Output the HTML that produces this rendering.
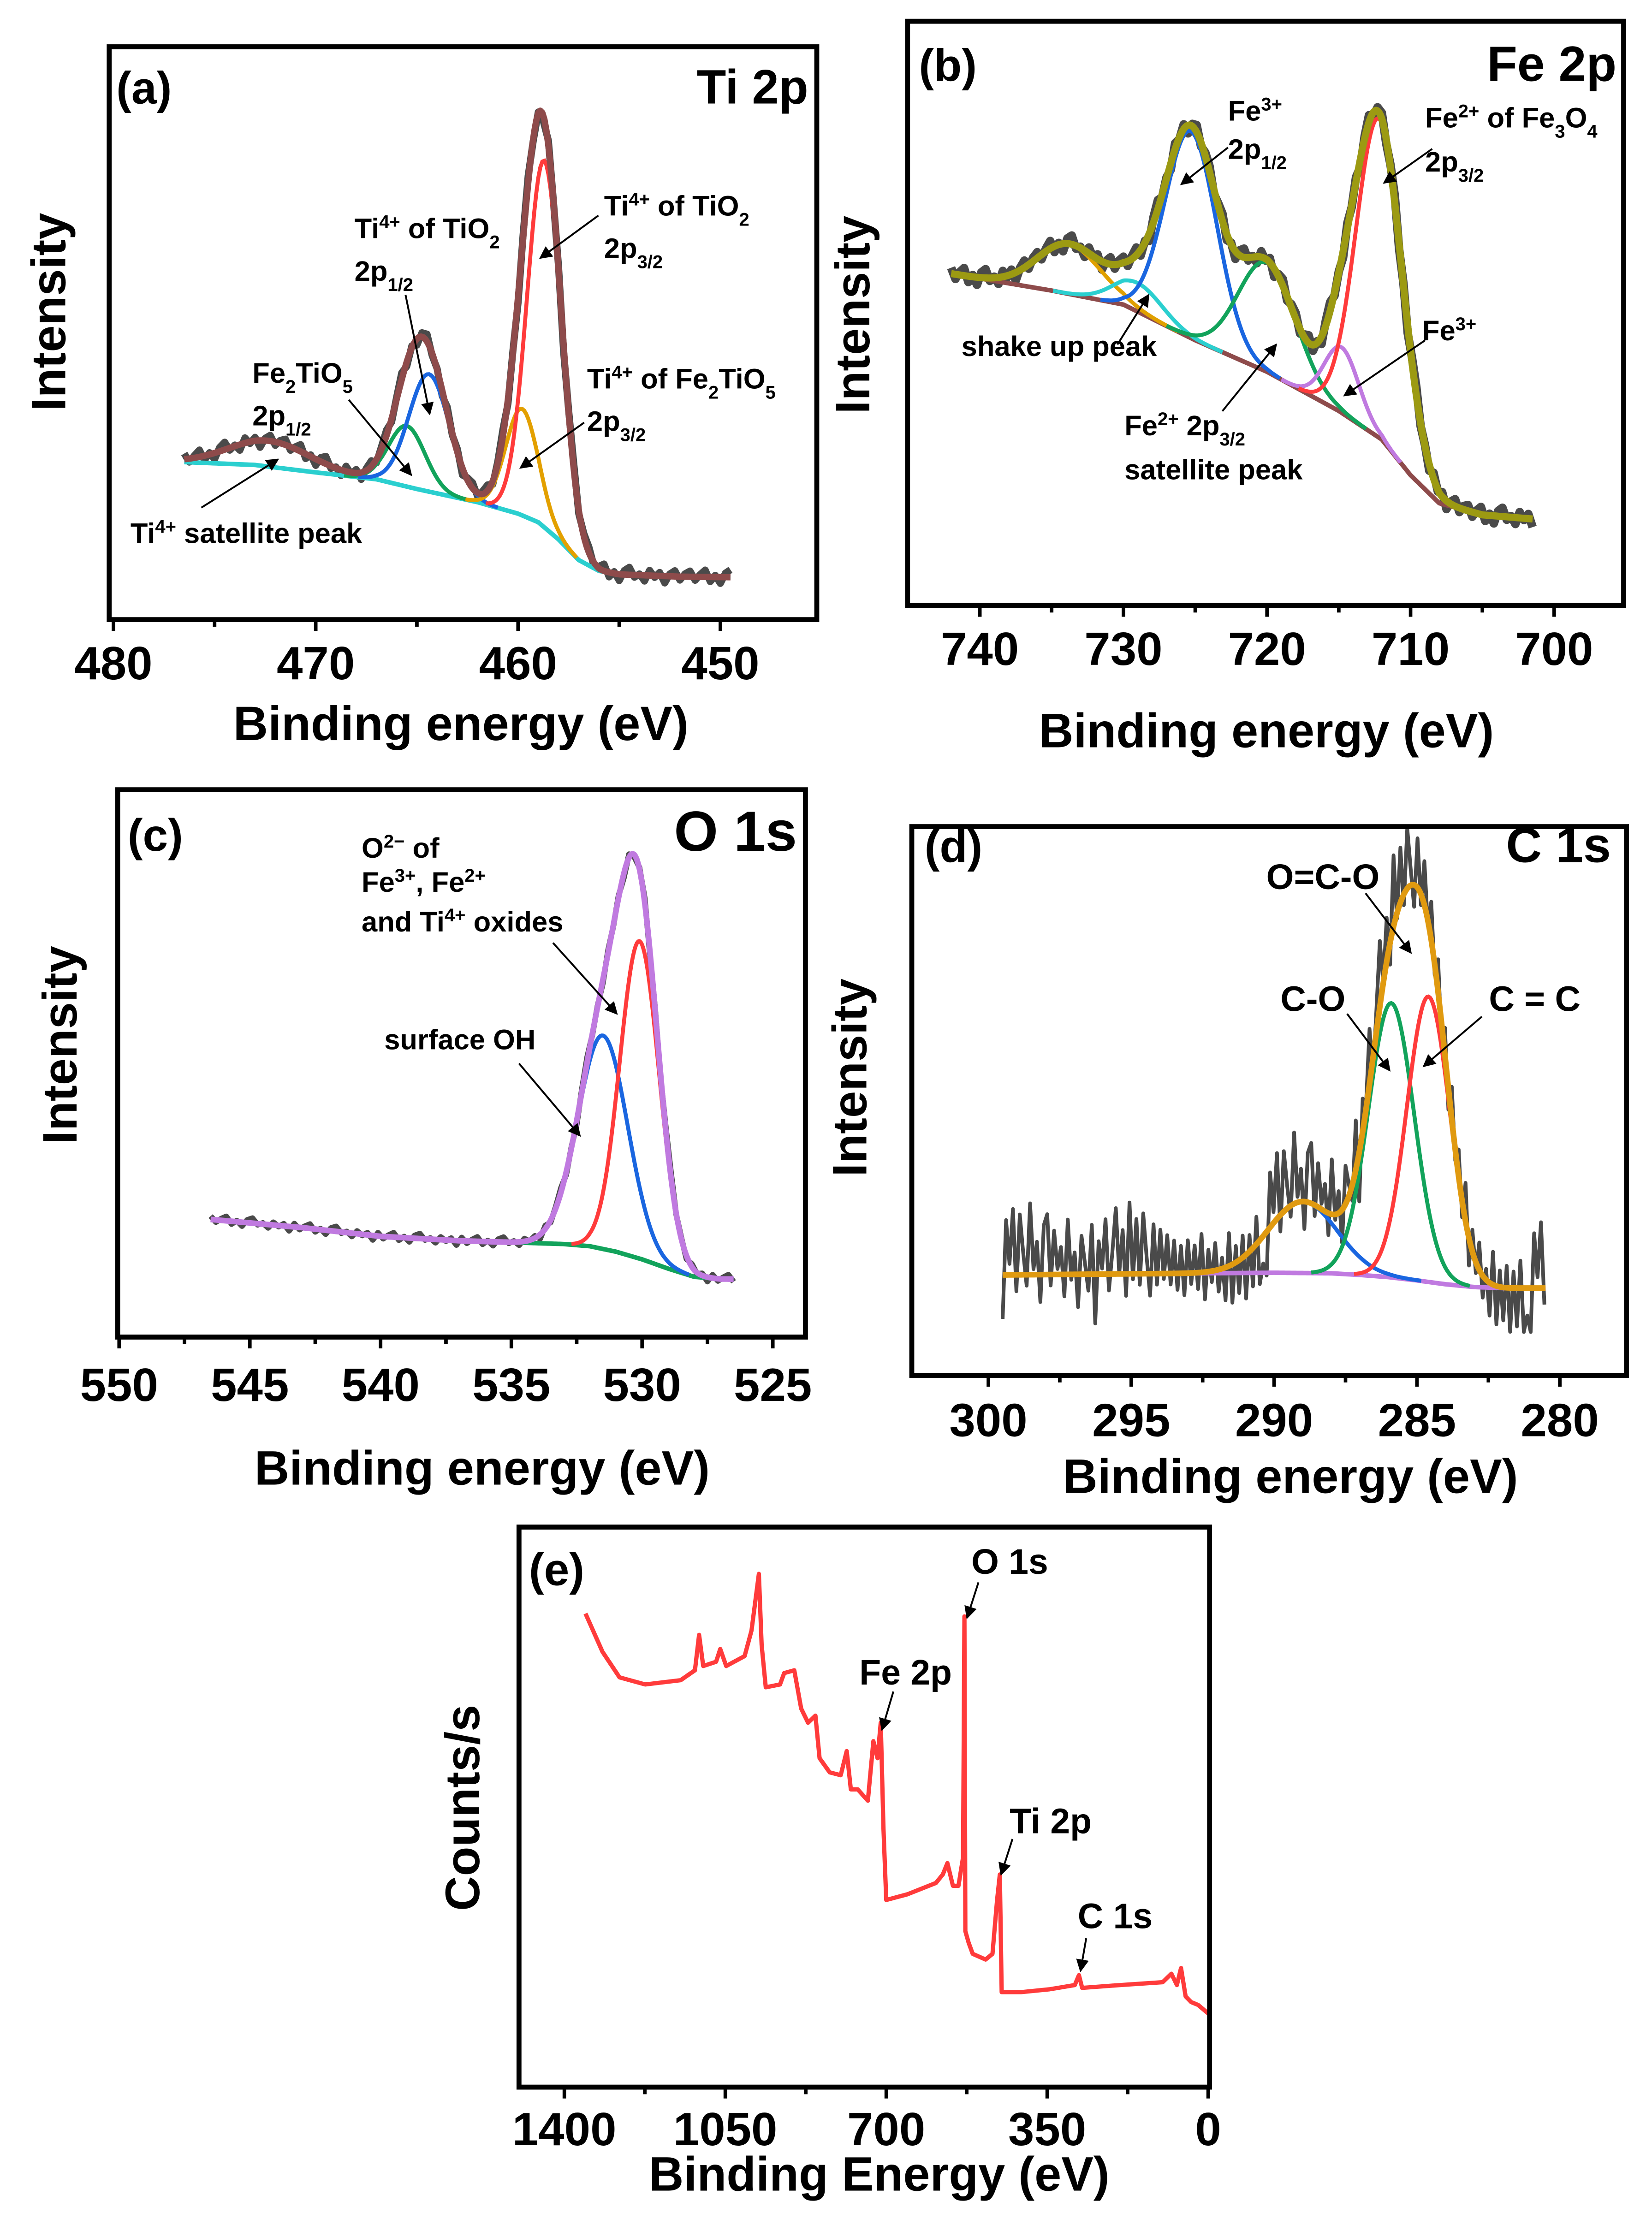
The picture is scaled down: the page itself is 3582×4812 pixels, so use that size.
<!DOCTYPE html>
<html><head><meta charset="utf-8"><style>
html,body{margin:0;padding:0;background:#fff}
svg{display:block}
text{font-family:"Liberation Sans",Arial,sans-serif;font-weight:bold;fill:#000}
.tk{font-size:33px}
.al{font-size:34px}
.an{font-size:20px}
.pl{font-size:32px}
</style></head><body>
<svg id="fig" width="3582" height="4812" viewBox="0 0 1165 1565" preserveAspectRatio="none" xmlns="http://www.w3.org/2000/svg">
<defs><marker id="ah" markerWidth="9" markerHeight="9" refX="8" refY="4.5" orient="auto" markerUnits="userSpaceOnUse" viewBox="0 0 9 9"><path d="M0,0 L9,4.5 L0,9 z" fill="#000"/></marker></defs>
<g id="curves"></g>
<rect x="77" y="33" width="499" height="404" fill="none" stroke="#000" stroke-width="3.5"/>
<rect x="640" y="15" width="505" height="412" fill="none" stroke="#000" stroke-width="3.5"/>
<rect x="83" y="557" width="485" height="386" fill="none" stroke="#000" stroke-width="3.5"/>
<rect x="643" y="583" width="504" height="387" fill="none" stroke="#000" stroke-width="3.5"/>
<rect x="366" y="1077" width="487" height="395" fill="none" stroke="#000" stroke-width="3.5"/>
<g id="ticks"></g>
<text class="al" x="325" y="522" text-anchor="middle">Binding energy (eV)</text>
<text class="al" x="893" y="527" text-anchor="middle">Binding energy (eV)</text>
<text class="al" x="340" y="1047" text-anchor="middle">Binding energy (eV)</text>
<text class="al" x="910" y="1053" text-anchor="middle">Binding energy (eV)</text>
<text class="al" x="620" y="1545" text-anchor="middle">Binding Energy (eV)</text>
<text class="al" transform="translate(46,220) rotate(-90)" text-anchor="middle">Intensity</text>
<text class="al" transform="translate(613,222) rotate(-90)" text-anchor="middle">Intensity</text>
<text class="al" transform="translate(54,737) rotate(-90)" text-anchor="middle">Intensity</text>
<text class="al" transform="translate(611,760) rotate(-90)" text-anchor="middle">Intensity</text>
<text class="al" transform="translate(338,1275) rotate(-90)" text-anchor="middle">Counts/s</text>
<text class="pl" x="82" y="73">(a)</text>
<text class="pl" x="570" y="73" text-anchor="end" style="font-size:34px">Ti 2p</text>
<text class="pl" x="648" y="57">(b)</text>
<text class="pl" x="1140" y="57" text-anchor="end" style="font-size:35px">Fe 2p</text>
<text class="pl" x="90" y="600">(c)</text>
<text class="pl" x="562" y="600" text-anchor="end" style="font-size:40px">O 1s</text>
<text class="pl" x="652" y="608">(d)</text>
<text class="pl" x="1136" y="608" text-anchor="end" style="font-size:35px">C 1s</text>
<text class="pl" x="373" y="1118">(e)</text>
<g>
<text class="an" x="250" y="168">Ti<tspan font-size="13" baseline-shift="super">4+</tspan> of TiO<tspan font-size="13" baseline-shift="sub">2</tspan></text>
<text class="an" x="250" y="198">2p<tspan font-size="13" baseline-shift="sub">1/2</tspan></text>
<line x1="286" y1="208" x2="303" y2="292" stroke="#000" stroke-width="1.3" marker-end="url(#ah)"/>
<text class="an" x="426" y="152">Ti<tspan font-size="13" baseline-shift="super">4+</tspan> of TiO<tspan font-size="13" baseline-shift="sub">2</tspan></text>
<text class="an" x="426" y="182">2p<tspan font-size="13" baseline-shift="sub">3/2</tspan></text>
<line x1="422" y1="152" x2="381" y2="182" stroke="#000" stroke-width="1.3" marker-end="url(#ah)"/>
<text class="an" x="414" y="274">Ti<tspan font-size="13" baseline-shift="super">4+</tspan> of Fe<tspan font-size="13" baseline-shift="sub">2</tspan>TiO<tspan font-size="13" baseline-shift="sub">5</tspan></text>
<text class="an" x="414" y="304">2p<tspan font-size="13" baseline-shift="sub">3/2</tspan></text>
<line x1="412" y1="298" x2="367" y2="330" stroke="#000" stroke-width="1.3" marker-end="url(#ah)"/>
<text class="an" x="178" y="270">Fe<tspan font-size="13" baseline-shift="sub">2</tspan>TiO<tspan font-size="13" baseline-shift="sub">5</tspan></text>
<text class="an" x="178" y="300">2p<tspan font-size="13" baseline-shift="sub">1/2</tspan></text>
<line x1="246" y1="282" x2="290" y2="335" stroke="#000" stroke-width="1.3" marker-end="url(#ah)"/>
<text class="an" x="92" y="383">Ti<tspan font-size="13" baseline-shift="super">4+</tspan> satellite peak</text>
<line x1="142" y1="358" x2="196" y2="324" stroke="#000" stroke-width="1.3" marker-end="url(#ah)"/>
</g>
<g>
<text class="an" x="866" y="85">Fe<tspan font-size="13" baseline-shift="super">3+</tspan></text>
<text class="an" x="866" y="112">2p<tspan font-size="13" baseline-shift="sub">1/2</tspan></text>
<line x1="866" y1="104" x2="833" y2="130" stroke="#000" stroke-width="1.3" marker-end="url(#ah)"/>
<text class="an" x="1005" y="90">Fe<tspan font-size="13" baseline-shift="super">2+</tspan> of Fe<tspan font-size="13" baseline-shift="sub">3</tspan>O<tspan font-size="13" baseline-shift="sub">4</tspan></text>
<text class="an" x="1005" y="121">2p<tspan font-size="13" baseline-shift="sub">3/2</tspan></text>
<line x1="1010" y1="105" x2="976" y2="129" stroke="#000" stroke-width="1.3" marker-end="url(#ah)"/>
<text class="an" x="1003" y="240">Fe<tspan font-size="13" baseline-shift="super">3+</tspan></text>
<line x1="1005" y1="240" x2="948" y2="279" stroke="#000" stroke-width="1.3" marker-end="url(#ah)"/>
<text class="an" x="678" y="251">shake up peak</text>
<line x1="788" y1="243" x2="810" y2="208" stroke="#000" stroke-width="1.3" marker-end="url(#ah)"/>
<text class="an" x="793" y="307">Fe<tspan font-size="13" baseline-shift="super">2+</tspan>  2p<tspan font-size="13" baseline-shift="sub">3/2</tspan></text>
<text class="an" x="793" y="338">satellite peak</text>
<line x1="862" y1="290" x2="900" y2="243" stroke="#000" stroke-width="1.3" marker-end="url(#ah)"/>
</g>
<g>
<text class="an" x="255" y="605">O<tspan font-size="13" baseline-shift="super">2−</tspan> of</text>
<text class="an" x="255" y="629">Fe<tspan font-size="13" baseline-shift="super">3+</tspan>, Fe<tspan font-size="13" baseline-shift="super">2+</tspan></text>
<text class="an" x="255" y="657">and Ti<tspan font-size="13" baseline-shift="super">4+</tspan> oxides</text>
<line x1="390" y1="665" x2="435" y2="715" stroke="#000" stroke-width="1.3" marker-end="url(#ah)"/>
<text class="an" x="271" y="740">surface OH</text>
<line x1="366" y1="750" x2="409" y2="801" stroke="#000" stroke-width="1.3" marker-end="url(#ah)"/>
</g>
<g>
<text class="an" x="893" y="627" style="font-size:25px">O=C-O</text>
<line x1="963" y1="630" x2="995" y2="672" stroke="#000" stroke-width="1.3" marker-end="url(#ah)"/>
<text class="an" x="903" y="713" style="font-size:25px">C-O</text>
<line x1="950" y1="715" x2="980" y2="755" stroke="#000" stroke-width="1.3" marker-end="url(#ah)"/>
<text class="an" x="1050" y="713" style="font-size:25px">C = C</text>
<line x1="1045" y1="717" x2="1004" y2="752" stroke="#000" stroke-width="1.3" marker-end="url(#ah)"/>
</g>
<g>
<text class="an" x="685" y="1110" style="font-size:25px">O 1s</text>
<line x1="690" y1="1116" x2="682" y2="1141" stroke="#000" stroke-width="1.3" marker-end="url(#ah)"/>
<text class="an" x="606" y="1188" style="font-size:25px">Fe 2p</text>
<line x1="630" y1="1193" x2="622" y2="1220" stroke="#000" stroke-width="1.3" marker-end="url(#ah)"/>
<text class="an" x="712" y="1293" style="font-size:25px">Ti 2p</text>
<line x1="714" y1="1297" x2="706" y2="1322" stroke="#000" stroke-width="1.3" marker-end="url(#ah)"/>
<text class="an" x="760" y="1360" style="font-size:25px">C 1s</text>
<line x1="766" y1="1367" x2="762" y2="1390" stroke="#000" stroke-width="1.3" marker-end="url(#ah)"/>
</g>
</svg>
<script>
// ---- panel (a) Ti 2p ----
const aBgE=[476.5,473,470,467,465,462,460,459,458,457,456,455,452,449.5];
const aBgV=[27.5,27,25.7,24.5,22.8,20.5,18.5,17,14,10.4,8.5,7.9,7.5,7.4];
const aPeakC=[472.3,465.5,464.4,459.8,458.7];
const aPeakH=[4.5,10.6,20.5,18.6,64];
const aPeakW=[2.0,0.9,1.0,0.8,0.85];
const aNoise=[1.0,-0.6,0.4,1.2,-0.8,0.3,-1.1,0.7,1.3,-0.4,0.2,-1.0,0.9,-0.3,0.6,-1.2,0.4,1.0,-0.6,0.5];
const aTicks=[480,470,460,450];
// ---- panel (b) Fe 2p ----
const bBgE=[742,735,730,725,720,715,712,710,708,705,701.5];
const bBgV=[56.8,53.9,51.5,45.4,40,33.3,28.4,22.3,17.5,15.5,14.8];
const bPeakC=[733.8,729,725.3,720,714.8,712.2];
const bPeakH=[8.5,4.9,35.4,18.7,11.2,54.6];
const bPeakW=[2.2,1.7,1.8,2.0,1.2,1.6];
const bNoise=[1,-0.8,0.5,1.3,-1,0.3,-1.3,0.9,1.5,-0.5,0.2,-1.1,1.0,-0.3,0.8,-1.4,0.4,1.2,-0.7,0.6];
const bTicks=[740,730,720,710,700];
// ---- panel (c) O 1s ----
const cBgE=[546.5,543,540,537,535,533,532,531,530,529,528,527,526.5];
const cBgV=[21.5,20,18.4,17.6,17.3,17,16.6,15.6,14.2,12.5,11,10.6,10.6];
const cPeakC=[531.5,530.1];
const cPeakH=[39,58];
const cPeakW=[0.95,0.75];
const cNoise=[0.6,-0.4,0.3,0.8,-0.5,0.2,-0.7,0.5,0.9,-0.2,0.2,-0.6,0.5,-0.2,0.4,-0.8];
const cTicks=[550,545,540,535,530,525];
// ---- panel (d) C 1s ----
const dBgE=[299.5,295,290,288,287,286,285,284,283,282,280.5];
const dBgV=[18.3,18.5,18.7,18.6,18.3,17.9,17.3,16.6,16.1,15.9,15.9];
const dPeakC=[289,285.9,284.6];
const dPeakH=[13,50,52];
const dPeakW=[1.2,0.8,0.75];
const dNoise=[-8,10,2,12,-3,11,4,-2,13,1,6,-5,9,11,-2,8,1,5,-4,10,-1,4,-6,7,2,-3,9,-9,6,1,10,-3,4,12,0,8,-4,13,-1,10,-2,11,3,-4,9,-2,8,-1,7,-2,6,-3,5,-4,6,-2,5,-3,7,-5,4,-2,5,-4,2,-6,6,-7,3,-6,4,-8,3,-7,5,-8,-5];
const dTicks=[300,295,290,285,280];
// ---- panel (e) survey ----
const eE=[1354,1317,1280,1224,1147,1116,1107,1098,1070,1061,1048,1008,993,977,971,962,931,922,900,885,870,854,845,823,799,786,777,762,740,728,719,712,706,700,654,592,577,567,555,543,533,530,528,521,512,484,469,459,453,449,407,345,290,281,274,191,99,80,68,59,49,37,22,0];
const eC=[334,307,289,284,287,294,319,297,300,309,297,304,322,362,312,282,284,292,294,267,257,262,232,222,220,237,210,210,202,244,232,257,182,132,136,144,150,158,142,142,162,332,110,102,94,90,94,132,150,67,67,69,72,79,70,72,74,80,72,84,64,60,58,52];
const eTicks=[1400,1050,700,350,0];

const NS='http://www.w3.org/2000/svg';
const curves=document.getElementById('curves');
const ticksG=document.getElementById('ticks');
function mk(tag,attrs,parent){const el=document.createElementNS(NS,tag);for(const k in attrs)el.setAttribute(k,attrs[k]);parent.appendChild(el);return el;}
function interp(xs,ys,x){
  const asc=xs[0]<xs[xs.length-1];
  for(let i=0;i<xs.length-1;i++){
    const a=xs[i],b=xs[i+1];
    if((asc&&x>=a&&x<=b)||(!asc&&x<=a&&x>=b)){return ys[i]+(ys[i+1]-ys[i])*(x-a)/(b-a);}
  }
  return (asc?(x<xs[0]):(x>xs[0]))?ys[0]:ys[ys.length-1];
}
function gauss(e,c,h,w){return h*Math.exp(-0.5*((e-c)/w)*((e-c)/w));}
function pathOf(pts){return pts.map((p,i)=>(i?'L':'M')+p[0].toFixed(2)+','+p[1].toFixed(2)).join('');}

const panels=[
 {id:'a',bgE:aBgE,bgV:aBgV,pc:aPeakC,ph:aPeakH,pw:aPeakW,noise:aNoise,ticks:aTicks,minor:5,
  x:e=>80+(480-e)*14.267,y:v=>437-v*4.04,e0:476.5,e1:449.5,step:0.1,nstep:0.25,
  colors:[null,'#12a35b','#1a66e0','#e3a000','#ff3b3b'],bgColor:'#2bcfcf',bgFrom:476.5,env:'#8e4b4b',envW:4.5,raw:'#4a4a4a',rawW:5,axisY:437,labY:479},
 {id:'b',bgE:bBgE,bgV:bBgV,pc:bPeakC,ph:bPeakH,pw:bPeakW,noise:bNoise,ticks:bTicks,minor:5,
  x:e=>691+(740-e)*10.125,y:v=>427-v*4.12,e0:742,e1:701.5,step:0.1,nstep:0.3,
  colors:['#e0a000','#2bcfcf','#1a66e0','#12a35b','#c07ae0','#ff3b3b'],bgColor:'#8e4b4b',bgFrom:742,env:'#9c9a12',envW:5,raw:'#4a4a4a',rawW:6,axisY:427,labY:469},
 {id:'c',bgE:cBgE,bgV:cBgV,pc:cPeakC,ph:cPeakH,pw:cPeakW,noise:cNoise,ticks:cTicks,minor:2.5,
  x:e=>84+(550-e)*18.44,y:v=>943-v*3.86,e0:546.5,e1:526.5,step:0.05,nstep:0.2,
  colors:['#1a66e0','#ff3b3b'],bgColor:'#12a35b',bgFrom:537,env:'#c07ae0',envW:4,raw:'#4a4a4a',rawW:4,axisY:943,labY:988},
 {id:'d',bgE:dBgE,bgV:dBgV,pc:dPeakC,ph:dPeakH,pw:dPeakW,noise:dNoise,ticks:dTicks,minor:2.5,
  x:e=>697+(300-e)*20.15,y:v=>970-v*3.87,e0:299.5,e1:280.5,step:0.05,nstep:0.12,
  colors:['#1a66e0','#12a35b','#ff3b3b'],bgColor:'#c07ae0',bgFrom:299.5,env:'#e09a10',envW:4,raw:'#4a4a4a',rawW:2.6,axisY:970,labY:1013}
];

panels.forEach(P=>{
  const g=mk('g',{},curves);
  
  
  const env=e=>{let s=interp(P.bgE,P.bgV,e);for(let i=0;i<P.pc.length;i++)s+=gauss(e,P.pc[i],P.ph[i],P.pw[i]);return s;};
  const raw=[];let k=0;
  for(let e=P.e0;e>=P.e1-1e-9;e-=P.nstep){raw.push([P.x(e),P.y(env(e)+P.noise[k%P.noise.length])]);k++;}
  const rp=mk('path',{d:pathOf(raw),fill:'none',stroke:P.raw,'stroke-width':P.rawW,'stroke-linejoin':'round'},g);
  
  
  const bg=[];
  for(let e=P.bgFrom;e>=P.e1-1e-9;e-=P.step)bg.push([P.x(e),P.y(interp(P.bgE,P.bgV,e))]);
  const bp=mk('path',{d:pathOf(bg),fill:'none',stroke:P.bgColor,'stroke-width':3.2},g);
  
  
  for(let i=0;i<P.pc.length;i++){
    if(!P.colors[i])continue;
    const pts=[];
    for(let e=P.e0;e>=P.e1-1e-9;e-=P.step){const v=gauss(e,P.pc[i],P.ph[i],P.pw[i]);if(v>0.15||Math.abs(e-P.pc[i])<P.pw[i]*3.5)pts.push([P.x(e),P.y(interp(P.bgE,P.bgV,e)+v)]);}
    const cp=mk('path',{d:pathOf(pts),fill:'none',stroke:P.colors[i],'stroke-width':2.8},g);
    
    
  }
  const ev=[];
  for(let e=P.e0;e>=P.e1-1e-9;e-=P.step)ev.push([P.x(e),P.y(env(e))]);
  const ep=mk('path',{d:pathOf(ev),fill:'none',stroke:P.env,'stroke-width':P.envW,'stroke-linejoin':'round'},g);
  
  
  const t0=Math.max(...P.ticks),t1=Math.min(...P.ticks);
  for(let t=t0;t>=t1-P.minor*2-1e-9;t-=P.minor){
    const xx=P.x(t);
    const major=P.ticks.some(m=>Math.abs(m-t)<1e-6);
    const frameR={a:576,b:1145,c:568,d:1147}[P.id];
    if(xx>frameR+1)continue;
    const tl=mk('line',{x1:xx,y1:P.axisY,x2:xx,y2:P.axisY+(major?8:5),stroke:'#000','stroke-width':2.5},ticksG);
    
    
    if(major){
      const tx=mk('text',{x:xx,y:P.labY,'text-anchor':'middle','class':'tk'},ticksG);
      tx.textContent=String(t);
      
      
    }
  }
});

(function(){
  const xE=e=>852-e*0.3243, yE=c=>1472-c;
  const g=mk('g',{},curves);
  
  
  const pts=eE.map((e,i)=>[xE(e),yE(eC[i])]);
  const sp=mk('path',{d:pathOf(pts),fill:'none',stroke:'#ff3b3b','stroke-width':3,'stroke-linejoin':'round'},g);
  
  
  for(let t=1400;t>=0;t-=175){
    const xx=xE(t);const major=eTicks.includes(t);
    const tl=mk('line',{x1:xx,y1:1472,x2:xx,y2:1472+(major?8:5),stroke:'#000','stroke-width':2.5},ticksG);
    
    
    if(major){
      const tx=mk('text',{x:xx,y:1513,'text-anchor':'middle','class':'tk'},ticksG);
      tx.textContent=String(t);
      
      
    }
  }
})();
</script>
</body></html>
